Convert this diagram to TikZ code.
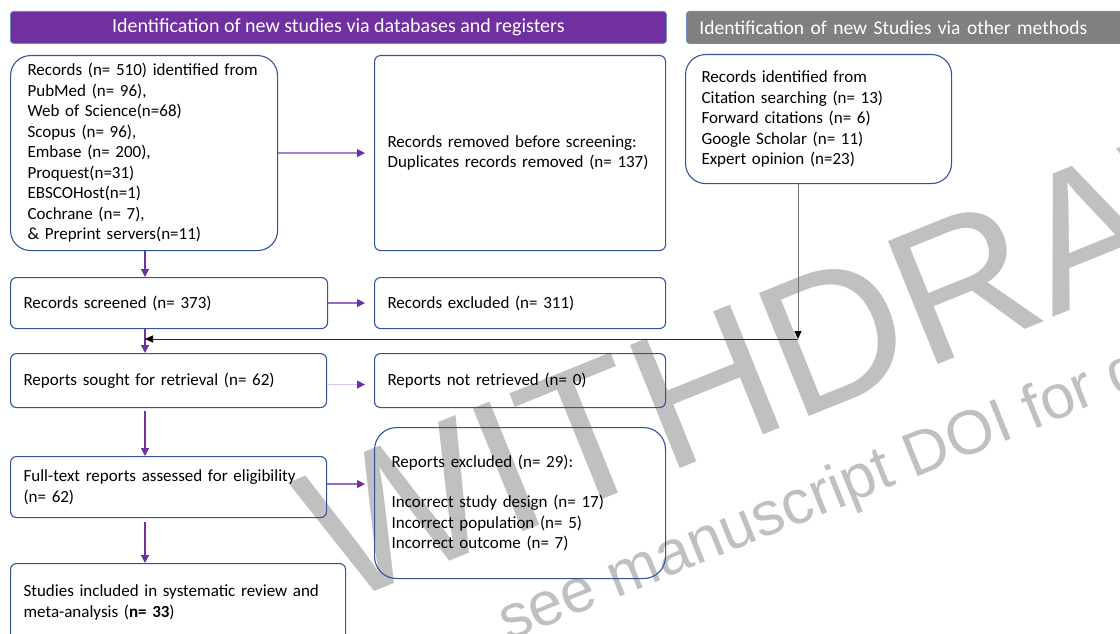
\documentclass[tikz,border=0pt]{standalone}
\usepackage{fontspec}
\setmainfont{Carlito}
\newfontfamily\wmfont{Liberation Sans}
\usetikzlibrary{arrows.meta,calc}
\definecolor{hdrpurple}{HTML}{7030A0}
\definecolor{hdrgray}{HTML}{808080}
\definecolor{hdrline}{HTML}{6F8BC0}
\definecolor{boxblue}{HTML}{2F5597}
\definecolor{wmgray}{HTML}{C0C0C0}
\definecolor{lineA}{HTML}{A47FD0}
\definecolor{lineB}{HTML}{9A66C8}
\definecolor{lineC}{HTML}{DCC2EE}
\definecolor{gline}{HTML}{707070}
\newcommand\bxfont{\fontsize{17}{20.5}\selectfont}
\newcommand\hdfont{\fontsize{20}{24}\selectfont}
\begin{document}
\begin{tikzpicture}[x=1pt,y=-1pt,
  box/.style={draw=boxblue, line width=1.1pt, rounded corners=6pt, inner ysep=0pt,
    align=left, font=\bxfont, anchor=north west, text=black},
  hdr/.style={line width=0.8pt, draw=hdrline, rounded corners=3pt, inner ysep=0pt,
    anchor=north west, text=white, font=\hdfont},
  wm/.style={rotate=22, anchor=base west, inner sep=0pt, text=wmgray},
  vtip/.style={-{Triangle[length=8pt,width=8pt,color=hdrpurple]}},
  parrow/.style={draw=hdrpurple, line width=1.4pt, vtip},
  harrow/.style={draw=#1, line width=1.2pt, vtip, shorten >=9pt},
  garrow/.style={draw=gline, line width=1pt, -{Triangle[length=8pt,width=7pt,color=black]}}
]
\useasboundingbox (0,0) rectangle (1120,634);

% watermark
\node[wm, font=\wmfont\fontsize{193}{193}\selectfont] (wm1) at (337,607) {WITHDRAWN};
\node[wm, font=\wmfont\fontsize{62}{62}\selectfont] (wm2) at (508,642) {see manuscript DOI for details};

% headers
\node[hdr, fill=hdrpurple, minimum width=656pt, minimum height=32pt] (h1) at (10,11)
  {Identification of new studies via databases and registers};
\node[hdr, fill=hdrgray, minimum width=460pt, minimum height=32pt, text width=434pt,
  inner xsep=13pt, align=left, font=\fontsize{19.5}{24}\selectfont] (h2) at (686,11)
  {Identification of new Studies via other methods};

% boxes
\node[box, rounded corners=20pt, minimum width=267pt, minimum height=195pt,
  text width=233pt, inner xsep=17pt] (b1) at (10,55)
  {Records (n= 510) identified from\\
   PubMed (n= 96),\\
   Web of Science(n=68)\\
   Scopus (n= 96),\\
   Embase (n= 200),\\
   Proquest(n=31)\\
   EBSCOHost(n=1)\\
   Cochrane (n= 7),\\
   \& Preprint servers(n=11)};
\node[box, minimum width=291pt, minimum height=195pt, text width=265pt, inner xsep=13pt] (b2) at (374,55)
  {Records removed before screening:\\Duplicates records removed (n= 137)};
\node[box, rounded corners=20pt, minimum width=266pt, minimum height=129pt,
  text width=234pt, inner xsep=16pt] (b3) at (685,54)
  {Records identified from\\
   Citation searching (n= 13)\\
   Forward citations (n= 6)\\
   Google Scholar (n= 11)\\
   Expert opinion (n=23)};
\node[box, minimum width=317pt, minimum height=51pt, text width=291pt, inner xsep=13pt] (b4) at (10,277)
  {Records screened (n= 373)};
\node[box, minimum width=291pt, minimum height=51pt, text width=265pt, inner xsep=13pt] (b5) at (374,277)
  {Records excluded (n= 311)};
\node[box, minimum width=316pt, minimum height=54pt, text width=290pt, inner xsep=13pt] (b6) at (10,353)
  {Reports sought for retrieval (n= 62)};
\node[box, minimum width=291pt, minimum height=54pt, text width=265pt, inner xsep=13pt] (b7) at (374,353)
  {Reports not retrieved (n= 0)};
\node[box, minimum width=316pt, minimum height=61pt, text width=290pt, inner xsep=13pt] (b8) at (10,456)
  {Full-text reports assessed for eligibility\\(n= 62)};
\node[box, rounded corners=22pt, minimum width=291pt, minimum height=151pt,
  text width=257pt, inner xsep=17pt] (b9) at (374,427)
  {Reports excluded (n= 29):\\[20pt]
   Incorrect study design (n= 17)\\
   Incorrect population (n= 5)\\
   Incorrect outcome (n= 7)};
\node[box, minimum width=335pt, minimum height=78pt, text width=309pt, inner xsep=13pt] (b10) at (10,563)
  {Studies included in systematic review and\\meta-analysis (\textbf{n= 33})};

% connectors
\coordinate (mx) at (145,0);
\coordinate (cx) at (798,339);
\draw[parrow] (b1.south -| mx) -- (b4.north -| mx);
\draw[parrow] (b4.south -| mx) -- (b6.north -| mx);
\draw[parrow] ([yshift=-3pt]b6.south -| mx) -- (b8.north -| mx);
\draw[parrow] ([yshift=-4pt]b8.south -| mx) -- (b10.north -| mx);
\draw[harrow=lineA] (b1.east) -- (b2.west);
\draw[harrow=lineB] (b4.east) -- (b5.west);
\draw[harrow=lineC] ([yshift=-4pt]b6.east) -- ([yshift=-4pt]b7.west);
\draw[harrow=lineB] ([yshift=3pt]b8.east) -- ([yshift=3pt]b8.east -| b9.west);
\draw[garrow] (b3.south -| cx) -- (cx);
\draw[garrow, draw=black!85] (cx) -- (mx |- cx);
\end{tikzpicture}
\end{document}
